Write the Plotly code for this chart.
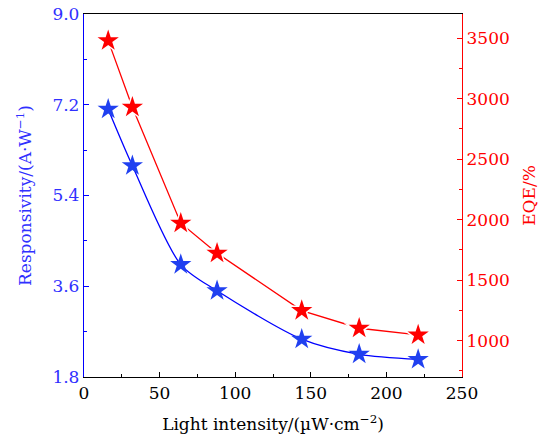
import plotly.graph_objects as go

intensity = [16, 32, 64, 88, 144, 182, 221]
responsivity = [7.11, 5.99, 4.03, 3.51, 2.55, 2.25, 2.15]
eqe = [3480, 2930, 1971, 1723, 1249, 1103, 1048]

x_ticks = [0, 50, 100, 150, 200, 250]
y1_ticks = [1.8, 3.6, 5.4, 7.2, 9.0]
y2_ticks = [1000, 1500, 2000, 2500, 3000, 3500]

FONT = "DejaVu Serif"
BLUE = "#0000ff"
BLUE_M = "#2040f0"
RED = "#ff0000"
FS = 17

fig = go.Figure()
fig.add_trace(go.Scatter(x=intensity, y=responsivity, mode="lines+markers",
                         line=dict(color=BLUE, width=1.3, shape="spline", smoothing=0.8),
                         marker=dict(symbol="star", size=16, color=BLUE_M),
                         yaxis="y", showlegend=False))
fig.add_trace(go.Scatter(x=intensity, y=eqe, mode="lines",
                         line=dict(color=RED, width=1.3),
                         yaxis="y2", showlegend=False))
fig.add_trace(go.Scatter(x=intensity, y=eqe, mode="markers",
                         marker=dict(symbol="star", size=23, color="white"),
                         yaxis="y2", showlegend=False, hoverinfo="skip"))
fig.add_trace(go.Scatter(x=intensity, y=eqe, mode="markers",
                         marker=dict(symbol="star", size=16, color=RED),
                         yaxis="y2", showlegend=False))

fig.update_layout(
    width=552, height=434,
    margin=dict(l=84, r=90, t=14, b=57),
    paper_bgcolor="white", plot_bgcolor="white",
    font=dict(family=FONT, size=FS, color="black"),
    xaxis=dict(range=[0, 250], tickvals=x_ticks, ticks="inside", ticklen=5,
               tickcolor="black", showline=True, linecolor="black", linewidth=1.3,
               mirror=True, showgrid=False, zeroline=False, automargin=False,
               ticklabeloverflow="allow",
               minor=dict(ticks="inside", dtick=25, ticklen=3, tickcolor="black"),
               title=dict(text="Light intensity/(µW·cm<sup>−2</sup>)", standoff=16,
                          font=dict(family=FONT, size=FS)),
               tickfont=dict(family=FONT, size=FS)),
    yaxis=dict(range=[1.8, 9.0], tickvals=y1_ticks, ticktext=["1.8", "3.6", "5.4", "7.2", "9.0"],
               ticks="inside", ticklen=5, tickcolor=BLUE, showline=True, automargin=False,
               ticklabeloverflow="allow",
               linecolor=BLUE, linewidth=1.3, showgrid=False, zeroline=False,
               minor=dict(ticks="inside", dtick=0.9, ticklen=3, tickcolor=BLUE),
               tickfont=dict(family=FONT, size=FS, color="#3030ff"),
               title=dict(text="Responsivity/(A·W<sup>−1</sup>)", standoff=16,
                          font=dict(family=FONT, size=FS, color="#3030ff"))),
    yaxis2=dict(range=[700, 3700], tickvals=y2_ticks, overlaying="y", side="right",
                ticks="inside", ticklen=5, tickcolor=RED, showline=True, automargin=False,
                ticklabeloverflow="allow",
                linecolor=RED, linewidth=1.3, showgrid=False, zeroline=False,
                minor=dict(ticks="inside", tickvals=[750, 1250, 1750, 2250, 2750, 3250], ticklen=3, tickcolor=RED),
                tickfont=dict(family=FONT, size=FS, color=RED),
                title=dict(text="EQE/%", standoff=14,
                           font=dict(family=FONT, size=FS, color=RED))),
)

fig.write_html("out.html", config={"displayModeBar": False},
               post_script="document.body.style.margin='0';")
